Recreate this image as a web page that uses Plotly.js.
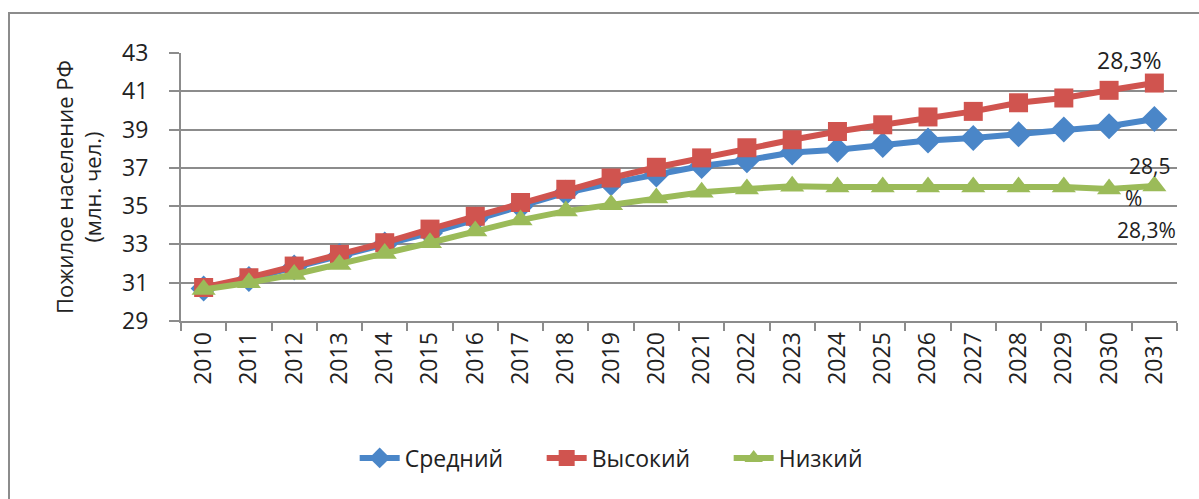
<!DOCTYPE html>
<html>
<head>
<meta charset="utf-8">
<script src="https://cdn.plot.ly/plotly-3.0.1.min.js"></script>
<style>
  html, body { margin: 0; padding: 0; background: #fff; }
  #wrap { position: relative; width: 1199px; height: 499px; }
  #chart { position: absolute; left: 0; top: 0; width: 1199px; height: 499px; }
  #frame { position: absolute; left: 8px; top: 12px; width: 1191px; height: 487px;
           border-left: 2px solid #8c8c8c; border-top: 2px solid #8c8c8c; box-sizing: border-box;
           pointer-events: none; }
</style>
</head>
<body>
<div id="wrap">
  <div id="chart"></div>
  <div id="frame"></div>
</div>
<script>
const years = ['2010','2011','2012','2013','2014','2015','2016','2017','2018','2019','2020',
               '2021','2022','2023','2024','2025','2026','2027','2028','2029','2030','2031'];

const seriesNames = ['Средний', 'Высокий', 'Низкий'];

const medium = [30.7, 31.2, 31.8, 32.4, 33.0, 33.6, 34.3, 35.0, 35.7, 36.2, 36.65,
                37.1, 37.4, 37.8, 37.95, 38.2, 38.43, 38.56, 38.75, 39.0, 39.17, 39.55];
const high   = [30.75, 31.26, 31.87, 32.48, 33.09, 33.8, 34.47, 35.19, 35.88, 36.47, 37.03,
                37.52, 38.05, 38.47, 38.9, 39.25, 39.66, 39.95, 40.4, 40.65, 41.05, 41.43];
const low    = [30.65, 31.0, 31.43, 31.95, 32.53, 33.09, 33.7, 34.27, 34.74, 35.07, 35.43,
                35.73, 35.9, 36.04, 36.0, 36.0, 36.0, 36.0, 36.0, 36.0, 35.9, 36.05];

const yTicks = [29, 31, 33, 35, 37, 39, 41, 43];
const endLabels = ['28,3%', '28,5', '%', '28,3%'];
const yTitle = 'Пожилое население РФ<br>(млн. чел.)';

const FONT = 'Open Sans, Noto Sans, sans-serif';
const colors = ['#4A86C8', '#D0544F', '#9BBB59'];
const symbols = ['diamond', 'square', 'triangle-up'];
const sizes = [20, 19, 21];
const data = [medium, high, low].map((vals, i) => ({
  type: 'scatter',
  mode: 'lines+markers',
  name: seriesNames[i],
  x: years,
  y: vals,
  line: { color: colors[i], width: 6 },
  marker: { color: colors[i], symbol: symbols[i], size: sizes[i] },
  cliponaxis: false
}));

const grid = '#8c8c8c';
const annPos = [
  { x: 0.952, y: 0.974 },
  { x: 0.972, y: 0.580 },
  { x: 0.956, y: 0.459 },
  { x: 0.969, y: 0.340 }
];
const annotations = endLabels.map((t, i) => ({
  xref: 'paper', yref: 'paper', x: annPos[i].x, y: annPos[i].y,
  xanchor: 'center', yanchor: 'middle', showarrow: false, text: t,
  font: { family: FONT, size: i === 0 ? 23 : 21, color: '#222' }
}));

const layout = {
  width: 1199, height: 499,
  margin: { l: 181, r: 22, t: 53, b: 178, autoexpand: false },
  paper_bgcolor: '#fff', plot_bgcolor: '#fff',
  font: { family: FONT, size: 23, color: '#222' },
  showlegend: true,
  legend: {
    orientation: 'h', xref: 'paper', yref: 'paper', x: 0.456, y: -0.511,
    xanchor: 'center', yanchor: 'middle',
    font: { family: FONT, size: 23, color: '#222' }, itemwidth: 40, tracegroupgap: 0,
    entrywidth: 132, entrywidthmode: 'pixels'
  },
  xaxis: {
    type: 'category', range: [-0.5, 21.5], tickson: 'boundaries', ticks: 'outside', ticklen: 8, tickwidth: 2,
    tickcolor: grid, showline: true, linecolor: grid, linewidth: 2, showgrid: false,
    tickangle: -90, tickfont: { family: FONT, size: 23, color: '#222' }, zeroline: false
  },
  yaxis: {
    range: [29, 43], tickvals: yTicks, ticktext: yTicks.map(String),
    ticks: 'outside', ticklen: 10, tickwidth: 2, tickcolor: grid,
    showline: true, linecolor: grid, linewidth: 2,
    showgrid: true, gridcolor: grid, gridwidth: 2, zeroline: false,
    ticklabelstandoff: 16,
    tickfont: { family: FONT, size: 23, color: '#222' },
    title: { text: yTitle, font: { family: FONT, size: 22, color: '#222' }, standoff: 14 },
    automargin: true
  },
  annotations: annotations
};

Plotly.newPlot('chart', data, layout, { displayModeBar: false, staticPlot: true });
</script>
</body>
</html>
